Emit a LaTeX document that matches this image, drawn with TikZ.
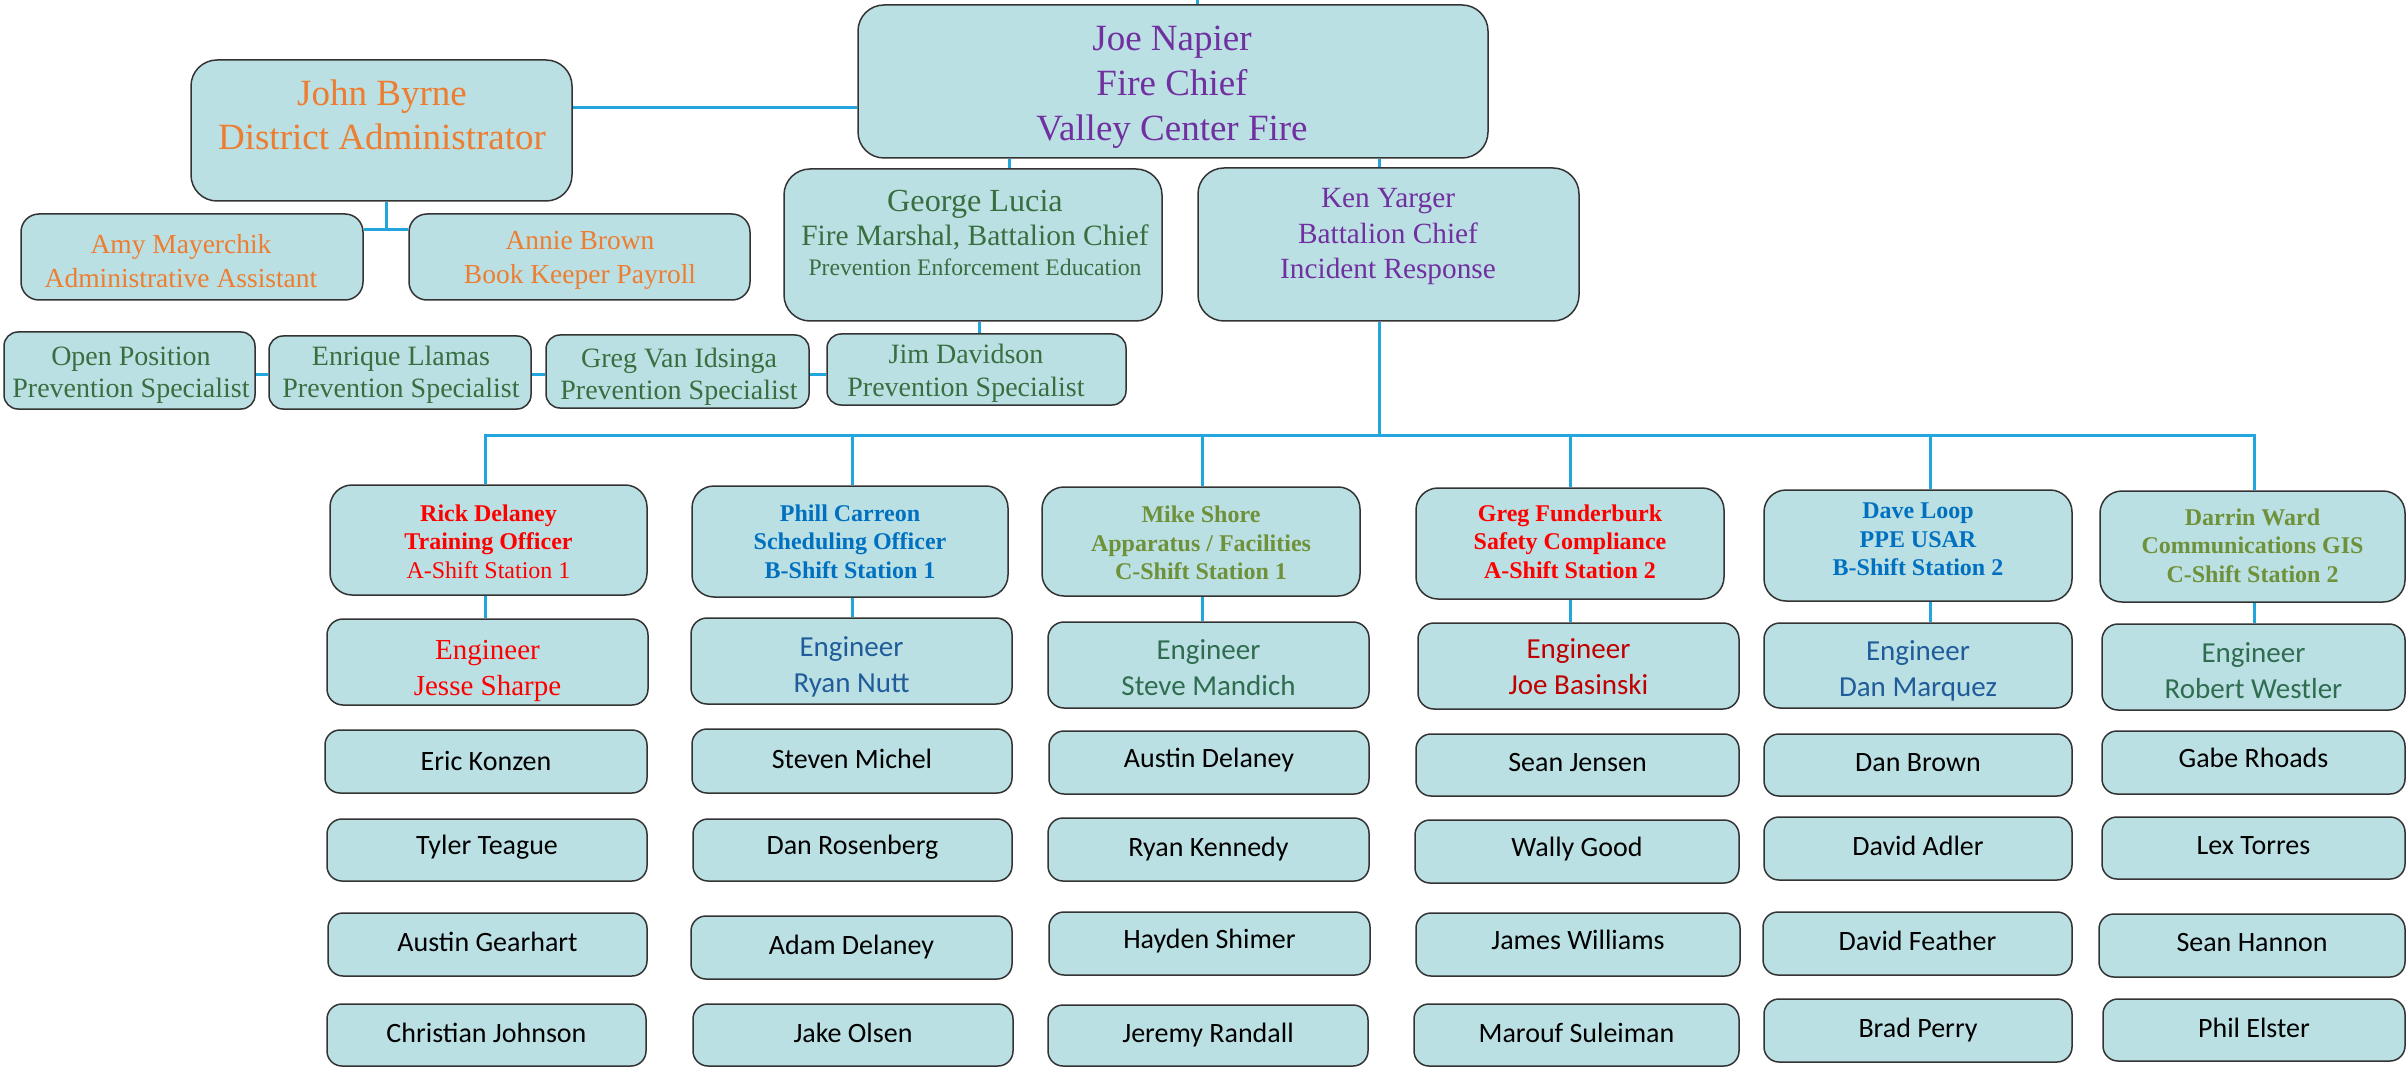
\documentclass[tikz,border=0pt]{standalone}
\usepackage{fontspec}
\setmainfont{Liberation Serif}
\newfontfamily\calib{Carlito}
\definecolor{boxfill}{RGB}{187,224,227}
\definecolor{connblue}{RGB}{35,165,222}
\definecolor{cPurple}{RGB}{112,48,160}
\definecolor{cOrange}{RGB}{237,125,49}
\definecolor{cGreen}{RGB}{56,110,64}
\definecolor{cOlive}{RGB}{110,145,58}
\definecolor{cTeal}{RGB}{47,108,80}
\definecolor{cRed}{RGB}{255,0,0}
\definecolor{cDRed}{RGB}{192,0,0}
\definecolor{cBlue}{RGB}{0,112,192}
\definecolor{cDBlue}{RGB}{31,92,153}
% box only
\newcommand\mkbox[6][]{%
  \pgfmathsetmacro\bw{#5-#3}%
  \pgfmathsetmacro\bh{#6-#4}%
  \pgfmathsetmacro\bcx{(#3+#5)/2}%
  \pgfmathsetmacro\bcy{(#4+#6)/2}%
  \node[box,minimum width=\bw pt,minimum height=\bh pt,#1] (#2) at (\bcx,\bcy) {};%
}
% box plus centred text node
\newcommand\mkcell[8][]{%
  \mkbox[#1]{#2}{#3}{#4}{#5}{#6}%
  \node[txt,#7] (#2-t) at (\bcx,\bcy) {#8};%
}
\tikzset{
  box/.style={draw=black!80, fill=boxfill, line width=1.5pt, rounded corners=15pt, inner sep=0pt},
  bigbox/.style={rounded corners=26pt},
  leadbox/.style={rounded corners=22pt},
  engbx/.style={rounded corners=16pt},
  nmbx/.style={rounded corners=15pt},
  txt/.style={align=center, inner sep=0pt},
  lead/.style={font=\fontsize{24}{28.5}\selectfont\bfseries},
  eng/.style={font=\calib\fontsize{29}{36}\selectfont},
  engserif/.style={font=\fontsize{29}{36}\selectfont},
  nm/.style={font=\calib\fontsize{28}{34}\selectfont, text=black, yshift=2.5pt},
  conn/.style={draw=connblue, line width=3pt}
}
\begin{document}
\begin{tikzpicture}[x=1pt,y=-1pt]
\fill[white] (0,0) rectangle (2407,1067);
\useasboundingbox (0,0) rectangle (2407,1067);

% ---- upper boxes
\mkbox[bigbox]{joe}{858}{5}{1488}{158}
\mkbox[bigbox]{jb}{191}{60}{572}{201}
\mkbox[rounded corners=18pt]{amy}{21}{214}{363}{300}
\mkbox[rounded corners=18pt]{annie}{409}{214}{750}{300}
\mkbox[bigbox]{george}{784}{169}{1162}{321}
\mkbox[bigbox]{ken}{1198}{168}{1579}{321}
\mkbox[rounded corners=14pt]{jim}{827}{334}{1126}{405}
\mkbox[rounded corners=14pt]{gvi}{546}{335}{809}{408}
\mkbox[rounded corners=14pt]{enr}{269}{336}{531}{409}
\mkbox[rounded corners=14pt]{open}{4}{332}{255}{409}

\node[txt, text=cPurple, font=\fontsize{37}{45}\selectfont] (joe-t) at (1172,87) {Joe Napier\\Fire Chief\\Valley Center Fire};
\node[txt, text=cOrange, font=\fontsize{37}{44.5}\selectfont] (jb-t) at (382,115) {John Byrne\\District Administrator};
\node[txt, text=cOrange, font=\fontsize{27.5}{34}\selectfont] (amy-t) at (181,261) {Amy Mayerchik\\Administrative Assistant};
\node[txt, text=cOrange, font=\fontsize{27.5}{34}\selectfont] (annie-t) at (580,260) {Annie Brown\\Book Keeper Payroll};
\node[txt, anchor=base, text=cGreen, font=\fontsize{32.2}{38}\selectfont] (george-t1) at (975,212) {George Lucia};
\node[txt, anchor=base, text=cGreen, font=\fontsize{29.5}{34}\selectfont] (george-t2) at (975,246) {Fire Marshal, Battalion Chief};
\node[txt, anchor=base, text=cGreen, font=\fontsize{23.7}{28}\selectfont] (george-t3) at (975,276) {Prevention Enforcement Education};
\node[txt, text=cPurple, font=\fontsize{29.3}{35.5}\selectfont] (ken-t) at (1388,237) {Ken Yarger\\Battalion Chief\\Incident Response};
\node[txt, text=cGreen, font=\fontsize{28}{33}\selectfont] (jim-t) at (966,373) {Jim Davidson\\Prevention Specialist};
\node[txt, text=cGreen, font=\fontsize{28}{32}\selectfont] (gvi-t) at (679,377) {Greg Van Idsinga\\Prevention Specialist};
\node[txt, text=cGreen, font=\fontsize{28}{32}\selectfont] (enr-t) at (401,375) {Enrique Llamas\\Prevention Specialist};
\node[txt, text=cGreen, font=\fontsize{28}{32}\selectfont] (open-t) at (131,375) {Open Position\\Prevention Specialist};

% ---- column 1
\mkcell[leadbox]{rick}{330}{485}{647}{595}{lead,text=cRed,yshift=-1.5pt}{Rick Delaney\\Training Officer\\{\mdseries A-Shift Station 1}}
\mkcell[engbx]{jesse}{327}{619}{648}{705}{engserif,text=cRed,yshift=-9pt}{Engineer\\Jesse Sharpe}
\mkcell[nmbx]{eric}{325}{730}{647}{793}{nm,yshift=-2pt}{Eric Konzen}
\mkcell[nmbx]{tyler}{327}{819}{647}{881}{nm}{Tyler Teague}
\mkcell[nmbx]{austing}{328}{913}{647}{976}{nm}{Austin Gearhart}
\mkcell[nmbx]{christian}{327}{1004}{646}{1066}{nm}{Christian Johnson}
% ---- column 2
\mkcell[leadbox]{phill}{692}{486}{1008}{597}{lead,text=cBlue}{Phill Carreon\\Scheduling Officer\\B-Shift Station 1}
\mkcell[engbx]{ryan}{691}{618}{1012}{704}{eng,text=cDBlue,yshift=-6pt}{Engineer\\Ryan Nutt}
\mkcell[nmbx]{steven}{692}{729}{1012}{793}{nm}{Steven Michel}
\mkcell[nmbx]{danr}{693}{819}{1012}{881}{nm}{Dan Rosenberg}
\mkcell[nmbx]{adam}{691}{916}{1012}{979}{nm,yshift=-2pt}{Adam Delaney}
\mkcell[nmbx]{jake}{693}{1004}{1013}{1066}{nm}{Jake Olsen}
% ---- column 3
\mkcell[leadbox]{mike}{1042}{487}{1360}{596}{lead,text=cOlive,yshift=-1.5pt}{Mike Shore\\Apparatus / Facilities\\C-Shift Station 1}
\mkcell[engbx]{steve}{1048}{622}{1369}{708}{eng,text=cTeal,yshift=-3pt}{Engineer\\Steve Mandich}
\mkcell[nmbx]{austind}{1049}{731}{1369}{794}{nm}{Austin Delaney}
\mkcell[nmbx]{ryank}{1048}{818}{1369}{881}{nm,yshift=-2pt}{Ryan Kennedy}
\mkcell[nmbx]{hayden}{1049}{912}{1370}{975}{nm}{Hayden Shimer}
\mkcell[nmbx]{jeremy}{1048}{1005}{1368}{1066}{nm,yshift=-2pt}{Jeremy Randall}
% ---- column 4
\mkcell[leadbox]{gregf}{1416}{488}{1724}{599}{lead,text=cRed,yshift=2pt}{Greg Funderburk\\Safety Compliance\\A-Shift Station 2}
\mkcell[engbx]{joeb}{1418}{623}{1739}{709}{eng,text=cDRed,yshift=-1pt}{Engineer\\Joe Basinski}
\mkcell[nmbx]{seanj}{1416}{734}{1739}{796}{nm}{Sean Jensen}
\mkcell[nmbx]{wally}{1415}{820}{1739}{883}{nm}{Wally Good}
\mkcell[nmbx]{james}{1416}{913}{1740}{976}{nm,yshift=2pt}{James Williams}
\mkcell[nmbx]{marouf}{1414}{1004}{1739}{1066}{nm}{Marouf Suleiman}
% ---- column 5
\mkcell[leadbox]{dave}{1764}{490}{2072}{601}{lead,text=cBlue,yshift=6pt}{Dave Loop\\PPE USAR\\B-Shift Station 2}
\mkcell[engbx]{danm}{1764}{623}{2072}{708}{eng,text=cDBlue,yshift=-5pt}{Engineer\\Dan Marquez}
\mkcell[nmbx]{danb}{1764}{734}{2072}{796}{nm}{Dan Brown}
\mkcell[nmbx]{adler}{1764}{817}{2072}{880}{nm}{David Adler}
\mkcell[nmbx]{feather}{1763}{912}{2072}{975}{nm}{David Feather}
\mkcell[nmbx]{brad}{1764}{999}{2072}{1062}{nm,yshift=-2pt}{Brad Perry}
% ---- column 6
\mkcell[leadbox]{darrin}{2100}{491}{2405}{602}{lead,text=cOlive,yshift=1pt}{Darrin Ward\\Communications GIS\\C-Shift Station 2}
\mkcell[engbx]{robert}{2102}{624}{2405}{710}{eng,text=cTeal,yshift=-4pt}{Engineer\\Robert Westler}
\mkcell[nmbx]{gabe}{2102}{731}{2405}{794}{nm,yshift=2pt}{Gabe Rhoads}
\mkcell[nmbx]{lex}{2102}{817}{2405}{879}{nm}{Lex Torres}
\mkcell[nmbx]{hannon}{2099}{914}{2405}{977}{nm}{Sean Hannon}
\mkcell[nmbx]{phil}{2103}{999}{2405}{1061}{nm}{Phil Elster}

% ---- connector helper coordinates
\coordinate (topc) at (1197,0);
\coordinate (jbline) at (0,108);
\coordinate (jbd) at (386,230);
\coordinate (gx) at (1009,0);
\coordinate (kx) at (1379,0);
\coordinate (jx) at (979,0);
\coordinate (py) at (0,374);
\coordinate (bus) at (0,435);
\coordinate (c1) at (485,0);
\coordinate (c2) at (852,0);
\coordinate (c3) at (1202,0);
\coordinate (c4) at (1570,0);
\coordinate (c5) at (1930,0);
\coordinate (c6) at (2254,0);

% ---- connectors
\draw[conn] (topc) -- (joe.north -| topc);
\draw[conn] (jb.east |- jbline) -- (joe.west |- jbline);
\draw[conn] (jb.south -| jbd) -- (jbd);
\draw[conn] (amy.east |- jbd) -- (annie.west |- jbd);
\draw[conn] (joe.south -| gx) -- (george.north -| gx);
\draw[conn] (joe.south -| kx) -- (ken.north -| kx);
\draw[conn] (george.south -| jx) -- (jim.north -| jx);
\draw[conn] (open.east |- py) -- (enr.west |- py);
\draw[conn] (enr.east |- py) -- (gvi.west |- py);
\draw[conn] (gvi.east |- py) -- (jim.west |- py);
\draw[conn] (ken.south -| kx) -- (kx |- bus);
\draw[conn, line join=miter] (rick.north -| c1) -- (c1 |- bus) -- (c6 |- bus) -- (darrin.north -| c6);
\draw[conn] (c2 |- bus) -- (phill.north -| c2);
\draw[conn] (c3 |- bus) -- (mike.north -| c3);
\draw[conn] (c4 |- bus) -- (gregf.north -| c4);
\draw[conn] (c5 |- bus) -- (dave.north -| c5);
\draw[conn] (rick.south -| c1) -- (jesse.north -| c1);
\draw[conn] (phill.south -| c2) -- (ryan.north -| c2);
\draw[conn] (mike.south -| c3) -- (steve.north -| c3);
\draw[conn] (gregf.south -| c4) -- (joeb.north -| c4);
\draw[conn] (dave.south -| c5) -- (danm.north -| c5);
\draw[conn] (darrin.south -| c6) -- (robert.north -| c6);
\end{tikzpicture}
\end{document}
